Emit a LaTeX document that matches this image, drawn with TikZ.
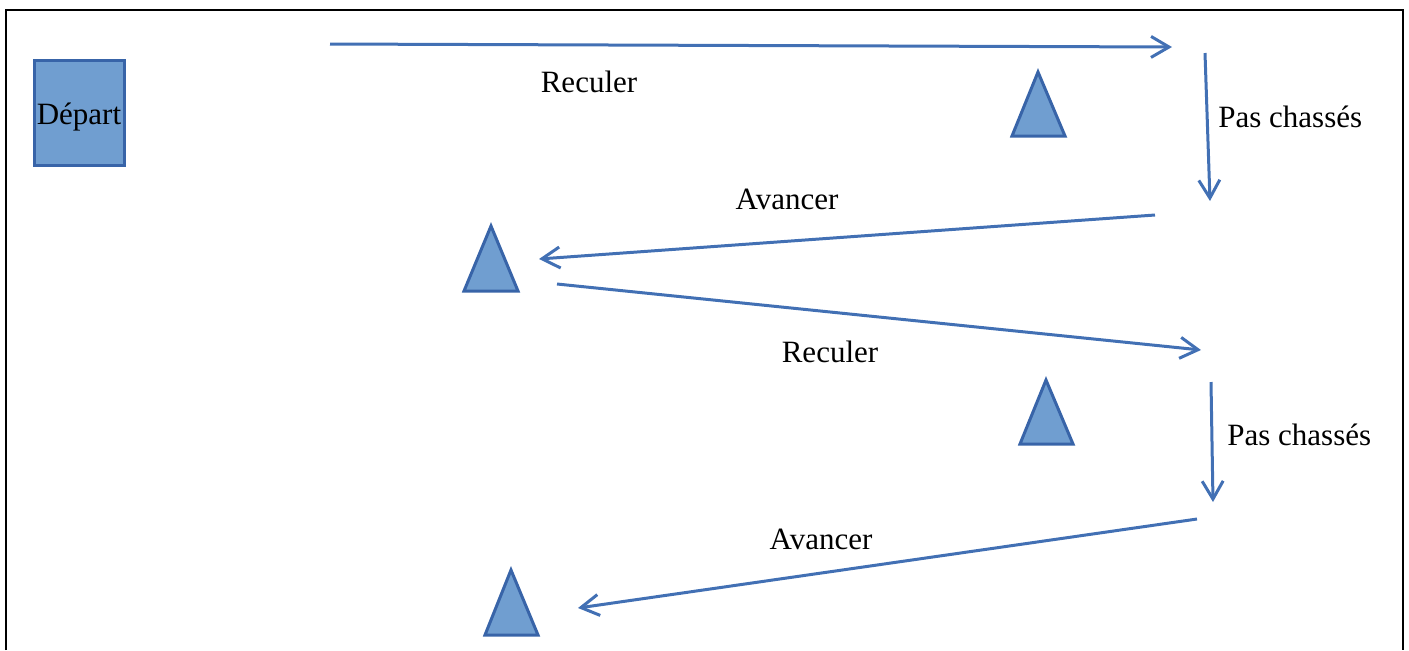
\documentclass[tikz,border=0pt]{standalone}
\usepackage{fontspec}
\setmainfont{Liberation Serif}
\usetikzlibrary{arrows.meta}
\definecolor{linkblue}{RGB}{66,112,180}
\definecolor{conefill}{RGB}{112,158,208}
\definecolor{coneedge}{RGB}{56,100,168}
\tikzset{
  move/.style={draw=linkblue, line width=1.5pt,
    -{Straight Barb[length=9pt,width=10.5pt,line width=1.5pt]}},
  cone/.style={fill=conefill, draw=coneedge, line width=1.5pt, line join=miter},
  lbl/.style={font=\fontsize{15.5}{18}\selectfont, inner sep=0pt},
  startbox/.style={fill=conefill, draw=coneedge, line width=1.5pt,
    minimum width=45pt, minimum height=52.5pt, inner sep=0pt}
}
\begin{document}
\begin{tikzpicture}[x=0.5pt,y=-0.5pt]
  \useasboundingbox (0,0) rectangle (1409,650);
  % open frame (no bottom edge)
  \draw[line width=1.3pt, line join=miter] (6,650) -- (6,10) -- (1403,10) -- (1403,650);

  % start square and its caption
  \node[startbox] (depart) at (79,112.5) {};
  \node[lbl] (departlbl) at (79,117) {Départ};

  % cones
  \draw[cone] (1038,72) -- (1065,136) -- (1012,136) -- cycle;
  \draw[cone] (491,226) -- (518,291) -- (464,291) -- cycle;
  \draw[cone] (1046,380) -- (1073,444) -- (1020,444) -- cycle;
  \draw[cone] (511,570) -- (538,635) -- (485,635) -- cycle;

  % path end points
  \coordinate (a1s) at (330,44);   \coordinate (a1e) at (1172,47);
  \coordinate (a2s) at (1205,53);  \coordinate (a2e) at (1210,201);
  \coordinate (a3s) at (1155,215); \coordinate (a3e) at (539,259);
  \coordinate (a4s) at (557,284);  \coordinate (a4e) at (1201,350);
  \coordinate (a5s) at (1211,382); \coordinate (a5e) at (1213,502);
  \coordinate (a6s) at (1197,519); \coordinate (a6e) at (578,608);

  \draw[move] (a1s) -- (a1e);
  \draw[move] (a2s) -- (a2e);
  \draw[move] (a3s) -- (a3e);
  \draw[move] (a4s) -- (a4e);
  \draw[move] (a5s) -- (a5e);
  \draw[move] (a6s) -- (a6e);

  % labels
  \node[lbl] (l1) at (589,82) {Reculer};
  \node[lbl, anchor=west] (l2) at (1218,117) {Pas chassés};
  \node[lbl] (l3) at (787,199) {Avancer};
  \node[lbl] (l4) at (830,352) {Reculer};
  \node[lbl, anchor=west] (l5) at (1227,435) {Pas chassés};
  \node[lbl] (l6) at (821,539) {Avancer};
\end{tikzpicture}
\end{document}
